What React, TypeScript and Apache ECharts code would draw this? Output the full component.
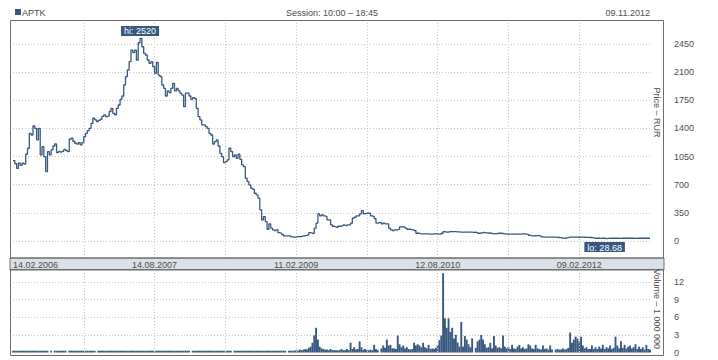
import { useEffect, useRef } from 'react';
import * as echarts from 'echarts';

const ticker = 'APTK';
const sessionText = 'Session: 10:00 – 18:45';
const asOfDate = '09.11.2012';
const priceAxisName = 'Price – RUR';
const volumeAxisName = 'Volume – 1 000 000';

// x axis: days since 14.02.2006, one sample per week
const xTickLabels = ['14.02.2006', '14.08.2007', '11.02.2009', '12.08.2010', '09.02.2012'];
const xLabelStepDays = 546;
const xGridStepDays = 273;
const xSpanDays = 2457;
const sampleStepDays = 7;

const priceTickStep = 350;
const volumeTickStep = 3;

const priceWeekly = [
  1000, 960, 904, 966, 940, 966, 957, 1078, 1153, 1339,
  1318, 1430, 1401, 1256, 1401, 1070, 1173, 1048, 862, 1111,
  1070, 1132, 1181, 1206, 1098, 1115, 1105, 1115, 1140, 1125,
  1111, 1265, 1277, 1240, 1215, 1206, 1223, 1194, 1223, 1297,
  1339, 1372, 1401, 1463, 1526, 1505, 1484, 1500, 1513, 1550,
  1567, 1547, 1555, 1610, 1650, 1588, 1567, 1650, 1691, 1762,
  1803, 1940, 2044, 2127, 2230, 2375, 2342, 2375, 2251, 2466,
  2520, 2416, 2334, 2313, 2251, 2209, 2230, 2168, 2085, 2220,
  2064, 2044, 1940, 1899, 1803, 1866, 1845, 1899, 1961, 1866,
  1899, 1866, 1836, 1815, 1670, 1840, 1840, 1803, 1762, 1782,
  1772, 1650, 1546, 1505, 1443, 1443, 1422, 1401, 1339, 1318,
  1206, 1235, 1256, 1181, 1090, 1048, 974, 986, 1007, 1153,
  1111, 1048, 1070, 1028, 1078, 1015, 945, 924, 780, 738,
  697, 655, 643, 593, 572, 531, 386, 261, 302, 240,
  145, 210, 158, 137, 128, 137, 103, 95, 80, 62,
  62, 62, 62, 50, 46, 46, 54, 54, 54, 62,
  62, 70, 75, 103, 95, 95, 158, 220, 336, 311,
  323, 311, 303, 261, 261, 199, 182, 174, 166, 182,
  182, 190, 199, 190, 199, 199, 220, 282, 294, 311,
  311, 336, 377, 336, 344, 344, 344, 311, 303, 278,
  220, 228, 228, 211, 220, 211, 211, 158, 137, 128,
  137, 137, 145, 174, 174, 174, 158, 145, 145, 137,
  137, 128, 95, 95, 87, 87, 87, 87, 87, 83,
  83, 87, 87, 87, 83, 83, 95, 116, 108, 108,
  116, 116, 116, 116, 112, 112, 108, 108, 108, 108,
  108, 108, 108, 106, 108, 104, 95, 98, 104, 104,
  100, 98, 95, 95, 87, 90, 92, 95, 95, 92,
  88, 83, 83, 83, 84, 83, 83, 83, 83, 85,
  87, 87, 85, 80, 70, 62, 62, 64, 66, 66,
  60, 50, 46, 46, 46, 47, 46, 46, 46, 44,
  42, 40, 36, 33, 33, 40, 46, 46, 46, 46,
  46, 45, 46, 46, 45, 44, 43, 42, 42, 38,
  33, 33, 33, 32, 33, 33, 28.68, 32, 33, 33,
  33, 34, 33, 33, 32, 33, 33, 33, 34, 33,
  33, 33, 32, 33, 33, 33, 34, 33, 33, 33,
  33, 33,
];

const volumeWeekly = [
  0.3, 0.3, 0.3, 0.3, 0.3, 0.3, 0.3, 0.3, 0.3, 0.3,
  0.3, 0.3, 0.3, 0.3, 0.3, 0.3, 0.3, 0.3, 0.3, 0.3,
  0, 0.3, 0, 0.3, 0.3, 0.3, 0.3, 0.3, 0.3, 0.3,
  0, 0.3, 0.3, 0.3, 0.3, 0.3, 0.3, 0.3, 0.3, 0.3,
  0.3, 0.3, 0.3, 0.3, 0.3, 0.3, 0, 0.3, 0.3, 0.3,
  0.3, 0.3, 0.3, 0.3, 0.3, 0.3, 0.3, 0.3, 0.3, 0.3,
  0.3, 0.3, 0.3, 0.3, 0.3, 0.3, 0.3, 0.3, 0.3, 0.3,
  0.3, 0.3, 0.3, 0.3, 0.3, 0.3, 0.3, 0.3, 0.3, 0.3,
  0.3, 0.3, 0.3, 0.3, 0.3, 0.3, 0.3, 0.3, 0.3, 0.3,
  0.3, 0.3, 0.3, 0.3, 0.3, 0.3, 0.3, 0.3, 0, 0.3,
  0.3, 0.3, 0.3, 0.3, 0.3, 0.3, 0.3, 0.3, 0.3, 0.3,
  0.3, 0.3, 0.3, 0.3, 0.3, 0.3, 0.3, 0.3, 0.3, 0.3,
  0.3, 0, 0.3, 0.3, 0.3, 0.3, 0.3, 0.3, 0.3, 0.3,
  0.3, 0.3, 0.3, 0.3, 0.3, 0.3, 0.3, 0.3, 0.3, 0.3,
  0.3, 0.3, 0.3, 0.3, 0.3, 0.3, 0.3, 0.3, 0.3, 0.3,
  0.3, 0, 0.3, 0.3, 0.3, 0.3, 0.4, 0.3, 0.5, 0.4,
  0.5, 0.6, 0.5, 0.8, 1.0, 1.66, 2.9, 4.2, 2.2, 1.0,
  0.7, 0.6, 0.5, 0.5, 0.4, 0.6, 0.4, 0.4, 0.4, 0.35,
  0.4, 0.6, 0.4, 0.4, 0.6, 0.4, 1.66, 0.6, 0.9, 0.5,
  0.6, 1.9, 0.9, 0.5, 0.6, 0.4, 0.4, 0.5, 0.4, 1.3,
  0.6, 0.4, 0, 0.7, 1.2, 0.8, 2.2, 1.2, 1.3, 0.7,
  0.7, 0.6, 2.9, 1.4, 0.9, 1.2, 0.7, 0.9, 0.6, 0.5,
  0.6, 1.66, 1.2, 1.4, 1.2, 0.9, 1.66, 0.9, 0.7, 1.3,
  0.6, 0.7, 0.6, 0.8, 1.3, 2.1, 2.9, 13.5, 5.8, 4.2,
  5.8, 3.5, 4.2, 2.4, 3.0, 1.7, 1.0, 5.2, 1.0, 2.8,
  2.2, 1.4, 0.9, 2.4, 0, 0.8, 1.9, 2.2, 3.0, 2.2,
  1.4, 0.8, 0.9, 1.66, 0.7, 2.8, 1.2, 0.8, 0.9, 0.7,
  2.9, 1.0, 0.7, 0.9, 0.6, 1.3, 0.7, 0.6, 1.0, 1.3,
  0.7, 0.9, 0.6, 0.7, 1.4, 1.2, 0.7, 0.6, 1.3, 0.7,
  0.6, 0.5, 1.2, 0.6, 0.7, 0.5, 1.2, 0.5, 0, 0.5,
  0.6, 0.5, 0.5, 0.7, 0.5, 0.6, 0.8, 3.4, 1.66, 2.2,
  2.7, 2.4, 1.9, 2.7, 1.2, 0.7, 0.9, 0.6, 0.6, 1.2,
  0.6, 0.9, 0.6, 1.0, 0.7, 1.3, 0.6, 0.9, 0.7, 1.2,
  0.6, 0.8, 2.7, 1.2, 0.7, 1.9, 0.8, 1.3, 0.7, 1.0,
  1.2, 0.7, 0.9, 1.4, 0.6, 1.0, 0.6, 0.9, 0.5, 1.3,
  0.6, 0.5,
];

const BLUE = '#38597f';
const GRID_COLOR = '#c4c4c4';
const TEXT = '#4d4d4d';
const BORDER = '#6e6e6e';
const STRIP = '#d9e0e7';
const FONT = "'Liberation Sans', Arial, sans-serif";

export default function App() {
  const ref = useRef<HTMLDivElement>(null);

  useEffect(() => {
    if (!ref.current) return;
    const chart = echarts.init(ref.current, undefined, { renderer: 'svg' });

    const priceData = priceWeekly.map((v, i) => [i * sampleStepDays, v]);
    const volumeData = volumeWeekly.map((v, i) => [i * sampleStepDays, v]);

    const xLabelFormatter = (v: number) => {
      const k = Math.round(v / xLabelStepDays);
      return Math.abs(v - k * xLabelStepDays) < 0.5 && k < xTickLabels.length ? xTickLabels[k] : '';
    };

    const dotted = { color: GRID_COLOR, type: [1, 2] as any, width: 1 };

    const option: any = {
      animation: false,
      grid: [
        { left: 13, right: 68, top: 20, height: 249 },
        { left: 13, right: 68, top: 270, height: 82.5 },
      ],
      xAxis: [
        {
          gridIndex: 0, type: 'value', min: 0, max: xSpanDays, interval: xGridStepDays,
          axisLine: { show: false }, axisTick: { show: false }, axisLabel: { show: false },
          splitLine: { show: true, showMinLine: false, showMaxLine: false, lineStyle: dotted },
        },
        {
          gridIndex: 1, type: 'value', position: 'top', min: 0, max: xSpanDays, interval: xGridStepDays,
          z: 10,
          axisLine: { show: false }, axisTick: { show: false },
          axisLabel: {
            show: true, margin: 1, fontSize: 9, fontFamily: FONT, color: TEXT,
            alignMinLabel: 'left', showMaxLabel: false, formatter: xLabelFormatter,
          },
          splitLine: { show: true, showMinLine: false, showMaxLine: false, lineStyle: dotted },
        },
      ],
      yAxis: [
        {
          gridIndex: 0, type: 'value', position: 'right', min: -priceTickStep, max: 2749, interval: priceTickStep,
          axisLine: { show: false }, axisTick: { show: false },
          axisLabel: {
            margin: 24, fontSize: 9, fontFamily: FONT, color: TEXT,
            showMinLabel: false, showMaxLabel: false,
            formatter: (v: number) => (v < 0 || v > 2450 ? '' : String(v)),
          },
          splitLine: { show: true, showMinLine: false, showMaxLine: false, lineStyle: dotted },
        },
        {
          gridIndex: 1, type: 'value', position: 'right', min: 0, max: 14.04, interval: volumeTickStep,
          axisLine: { show: false }, axisTick: { show: false },
          axisLabel: {
            margin: 24, fontSize: 9, fontFamily: FONT, color: TEXT,
            showMaxLabel: false,
            formatter: (v: number) => (v > 12 ? '' : String(v)),
          },
          splitLine: { show: true, showMinLine: false, showMaxLine: false, lineStyle: dotted },
        },
      ],
      series: [
        {
          type: 'line', xAxisIndex: 0, yAxisIndex: 0, data: priceData,
          symbol: 'none', showSymbol: false, step: 'end',
          lineStyle: { color: BLUE, width: 1.3 },
          itemStyle: { color: BLUE },
          markPoint: {
            silent: true,
            symbol: 'rect', symbolSize: 1,
            itemStyle: { color: 'rgba(0,0,0,0)' },
            data: [
              {
                type: 'max', valueDim: 'y',
                label: {
                  show: true, position: 'top', distance: 2,
                  formatter: (p: any) => 'hi: ' + p.value,
                  backgroundColor: BLUE, color: '#ffffff', fontSize: 9, fontFamily: FONT,
                  padding: [1, 3, 0, 3], lineHeight: 9,
                },
              },
              {
                type: 'min', valueDim: 'y',
                label: {
                  show: true, position: 'bottom', distance: 3,
                  formatter: (p: any) => 'lo: ' + p.value,
                  backgroundColor: BLUE, color: '#ffffff', fontSize: 9, fontFamily: FONT,
                  padding: [1, 3, 0, 3], lineHeight: 9,
                },
              },
            ],
          },
        },
        {
          type: 'bar', xAxisIndex: 1, yAxisIndex: 1, data: volumeData,
          barWidth: 1.9, itemStyle: { color: BLUE },
        },
      ],
      graphic: [
        {
          type: 'rect', z: 5, silent: true,
          shape: { x: 10, y: 258, width: 654, height: 12 },
          style: { fill: STRIP, stroke: BORDER, lineWidth: 1 },
        },
        {
          type: 'rect', z: 6, silent: true,
          shape: { x: 10.5, y: 20.5, width: 653, height: 237.5 },
          style: { fill: 'none', stroke: BORDER, lineWidth: 1 },
        },
        {
          type: 'rect', z: 6, silent: true,
          shape: { x: 10.5, y: 269.5, width: 653, height: 86 },
          style: { fill: 'none', stroke: BORDER, lineWidth: 1 },
        },
        {
          type: 'rect', z: 6, silent: true,
          shape: { x: 15, y: 9, width: 6, height: 6 },
          style: { fill: BLUE },
        },
        {
          type: 'text', z: 6, silent: true, x: 22, y: 12.5,
          style: {
            text: ticker, fill: TEXT, fontSize: 9, fontFamily: FONT,
            align: 'left', textAlign: 'left', verticalAlign: 'middle', textVerticalAlign: 'middle',
          },
        },
        {
          type: 'text', z: 6, silent: true, x: 332, y: 12.5,
          style: {
            text: sessionText, fill: TEXT, fontSize: 9, fontFamily: FONT,
            align: 'center', textAlign: 'center', verticalAlign: 'middle', textVerticalAlign: 'middle',
          },
        },
        {
          type: 'text', z: 6, silent: true, x: 650, y: 12.5,
          style: {
            text: asOfDate, fill: TEXT, fontSize: 9, fontFamily: FONT,
            align: 'right', textAlign: 'right', verticalAlign: 'middle', textVerticalAlign: 'middle',
          },
        },
        {
          type: 'text', z: 6, silent: true, x: 656.5, y: 112.5, rotation: -Math.PI / 2,
          style: {
            text: priceAxisName, fill: TEXT, fontSize: 9, fontFamily: FONT,
            align: 'center', textAlign: 'center', verticalAlign: 'middle', textVerticalAlign: 'middle',
          },
        },
        {
          type: 'text', z: 6, silent: true, x: 656.5, y: 309, rotation: -Math.PI / 2,
          style: {
            text: volumeAxisName, fill: TEXT, fontSize: 9, fontFamily: FONT,
            align: 'center', textAlign: 'center', verticalAlign: 'middle', textVerticalAlign: 'middle',
          },
        },
      ],
    };

    chart.setOption(option);
    return () => chart.dispose();
  }, []);

  return (
    <div
      ref={ref}
      style={{ position: 'absolute', left: 0, top: 0, width: 718, height: 360, background: '#ffffff' }}
    />
  );
}
